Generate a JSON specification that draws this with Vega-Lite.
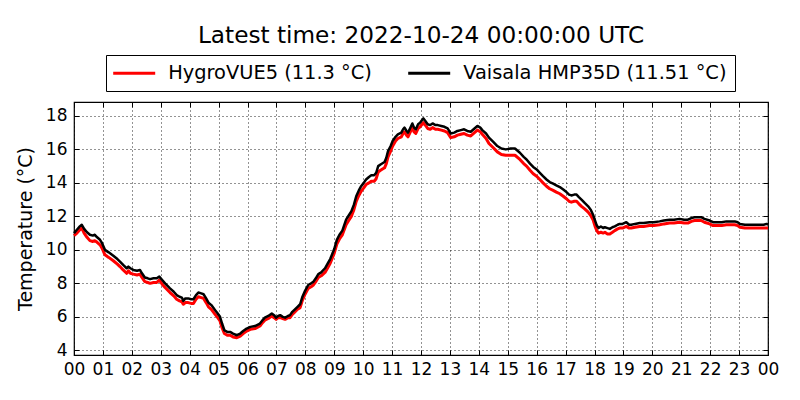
{
  "$schema": "https://vega.github.io/schema/vega-lite/v6.json",
  "width": 694,
  "height": 253,
  "autosize": {"type": "none"},
  "padding": {"left": 74, "top": 102, "right": 32, "bottom": 45},
  "background": "white",
  "title": {
    "text": "Latest time: 2022-10-24 00:00:00 UTC",
    "frame": "group",
    "anchor": "middle",
    "font": "DejaVu Sans",
    "fontSize": 23.2,
    "fontWeight": "normal",
    "color": "black",
    "offset": 6
  },
  "data": {
    "values": [
      {"h": 0.00, "hygro": 10.85, "vaisala": 11.0},
      {"h": 0.10, "hygro": 11.0, "vaisala": 11.2},
      {"h": 0.20, "hygro": 11.2, "vaisala": 11.4},
      {"h": 0.27, "hygro": 11.3, "vaisala": 11.5},
      {"h": 0.35, "hygro": 11.0, "vaisala": 11.25},
      {"h": 0.45, "hygro": 10.75, "vaisala": 11.05},
      {"h": 0.55, "hygro": 10.55, "vaisala": 10.9},
      {"h": 0.65, "hygro": 10.5, "vaisala": 10.85},
      {"h": 0.72, "hygro": 10.55, "vaisala": 10.9},
      {"h": 0.80, "hygro": 10.45, "vaisala": 10.75},
      {"h": 0.90, "hygro": 10.3, "vaisala": 10.6},
      {"h": 0.97, "hygro": 10.1, "vaisala": 10.4},
      {"h": 1.07, "hygro": 9.7, "vaisala": 10.0},
      {"h": 1.20, "hygro": 9.55, "vaisala": 9.85},
      {"h": 1.36, "hygro": 9.35, "vaisala": 9.65},
      {"h": 1.50, "hygro": 9.15, "vaisala": 9.45},
      {"h": 1.59, "hygro": 9.0, "vaisala": 9.3},
      {"h": 1.70, "hygro": 8.8, "vaisala": 9.1},
      {"h": 1.82, "hygro": 8.6, "vaisala": 8.9},
      {"h": 1.88, "hygro": 8.75, "vaisala": 9.0},
      {"h": 1.95, "hygro": 8.6, "vaisala": 8.9},
      {"h": 2.05, "hygro": 8.55, "vaisala": 8.8},
      {"h": 2.18, "hygro": 8.5, "vaisala": 8.75},
      {"h": 2.28, "hygro": 8.55, "vaisala": 8.8},
      {"h": 2.35, "hygro": 8.35, "vaisala": 8.6},
      {"h": 2.45, "hygro": 8.1, "vaisala": 8.35},
      {"h": 2.55, "hygro": 8.05, "vaisala": 8.3},
      {"h": 2.63, "hygro": 8.0, "vaisala": 8.25},
      {"h": 2.75, "hygro": 8.05, "vaisala": 8.3},
      {"h": 2.86, "hygro": 8.05, "vaisala": 8.3},
      {"h": 2.95, "hygro": 8.2, "vaisala": 8.4},
      {"h": 3.05, "hygro": 7.95, "vaisala": 8.2},
      {"h": 3.15, "hygro": 7.75, "vaisala": 8.0},
      {"h": 3.32, "hygro": 7.45, "vaisala": 7.7},
      {"h": 3.45, "hygro": 7.25, "vaisala": 7.5},
      {"h": 3.55, "hygro": 7.05, "vaisala": 7.3},
      {"h": 3.65, "hygro": 6.95, "vaisala": 7.2},
      {"h": 3.73, "hygro": 6.9, "vaisala": 7.15},
      {"h": 3.78, "hygro": 6.75, "vaisala": 6.95},
      {"h": 3.85, "hygro": 6.85, "vaisala": 7.1},
      {"h": 3.95, "hygro": 6.85, "vaisala": 7.1},
      {"h": 4.05, "hygro": 6.8, "vaisala": 7.05},
      {"h": 4.13, "hygro": 6.8, "vaisala": 7.05},
      {"h": 4.22, "hygro": 7.05, "vaisala": 7.3},
      {"h": 4.30, "hygro": 7.2, "vaisala": 7.45},
      {"h": 4.40, "hygro": 7.15, "vaisala": 7.4},
      {"h": 4.48, "hygro": 7.1, "vaisala": 7.35},
      {"h": 4.57, "hygro": 6.85, "vaisala": 7.1},
      {"h": 4.65, "hygro": 6.6, "vaisala": 6.85},
      {"h": 4.75, "hygro": 6.45, "vaisala": 6.7},
      {"h": 4.88, "hygro": 6.15, "vaisala": 6.4},
      {"h": 4.97, "hygro": 5.95, "vaisala": 6.2},
      {"h": 5.05, "hygro": 5.75, "vaisala": 6.0},
      {"h": 5.12, "hygro": 5.35, "vaisala": 5.6},
      {"h": 5.20, "hygro": 5.0, "vaisala": 5.2},
      {"h": 5.30, "hygro": 4.9, "vaisala": 5.1},
      {"h": 5.40, "hygro": 4.9, "vaisala": 5.1},
      {"h": 5.50, "hygro": 4.8, "vaisala": 5.0},
      {"h": 5.63, "hygro": 4.75, "vaisala": 4.9},
      {"h": 5.75, "hygro": 4.85, "vaisala": 5.0},
      {"h": 5.85, "hygro": 5.0, "vaisala": 5.15},
      {"h": 5.97, "hygro": 5.15, "vaisala": 5.3},
      {"h": 6.10, "hygro": 5.25, "vaisala": 5.4},
      {"h": 6.26, "hygro": 5.3, "vaisala": 5.45},
      {"h": 6.43, "hygro": 5.45, "vaisala": 5.6},
      {"h": 6.52, "hygro": 5.65, "vaisala": 5.8},
      {"h": 6.60, "hygro": 5.8, "vaisala": 5.95},
      {"h": 6.72, "hygro": 5.9, "vaisala": 6.05},
      {"h": 6.84, "hygro": 6.05, "vaisala": 6.2},
      {"h": 6.92, "hygro": 5.95, "vaisala": 6.1},
      {"h": 6.99, "hygro": 5.85, "vaisala": 5.95},
      {"h": 7.06, "hygro": 5.95, "vaisala": 6.05},
      {"h": 7.13, "hygro": 5.95, "vaisala": 6.1},
      {"h": 7.22, "hygro": 5.9, "vaisala": 6.0},
      {"h": 7.30, "hygro": 5.85, "vaisala": 5.95},
      {"h": 7.40, "hygro": 5.95, "vaisala": 6.05},
      {"h": 7.47, "hygro": 5.95, "vaisala": 6.1},
      {"h": 7.55, "hygro": 6.15, "vaisala": 6.3},
      {"h": 7.64, "hygro": 6.3, "vaisala": 6.45},
      {"h": 7.73, "hygro": 6.45, "vaisala": 6.6},
      {"h": 7.82, "hygro": 6.55, "vaisala": 6.75},
      {"h": 7.90, "hygro": 7.0, "vaisala": 7.2},
      {"h": 7.99, "hygro": 7.35, "vaisala": 7.55},
      {"h": 8.10, "hygro": 7.7, "vaisala": 7.9},
      {"h": 8.20, "hygro": 7.8, "vaisala": 8.0},
      {"h": 8.28, "hygro": 7.9, "vaisala": 8.1},
      {"h": 8.38, "hygro": 8.15, "vaisala": 8.35},
      {"h": 8.45, "hygro": 8.35, "vaisala": 8.55},
      {"h": 8.55, "hygro": 8.45, "vaisala": 8.65},
      {"h": 8.68, "hygro": 8.65, "vaisala": 8.9},
      {"h": 8.78, "hygro": 8.95, "vaisala": 9.2},
      {"h": 8.86, "hygro": 9.2, "vaisala": 9.45},
      {"h": 8.93, "hygro": 9.5, "vaisala": 9.75},
      {"h": 9.00, "hygro": 9.8, "vaisala": 10.05},
      {"h": 9.09, "hygro": 10.35, "vaisala": 10.6},
      {"h": 9.18, "hygro": 10.65, "vaisala": 10.9},
      {"h": 9.28, "hygro": 10.9, "vaisala": 11.15},
      {"h": 9.41, "hygro": 11.5, "vaisala": 11.8},
      {"h": 9.50, "hygro": 11.75, "vaisala": 12.05},
      {"h": 9.59, "hygro": 12.0, "vaisala": 12.3},
      {"h": 9.68, "hygro": 12.4, "vaisala": 12.7},
      {"h": 9.76, "hygro": 12.9, "vaisala": 13.2},
      {"h": 9.85, "hygro": 13.25, "vaisala": 13.55},
      {"h": 9.93, "hygro": 13.5, "vaisala": 13.8},
      {"h": 10.02, "hygro": 13.7, "vaisala": 14.0},
      {"h": 10.10, "hygro": 13.9, "vaisala": 14.2},
      {"h": 10.20, "hygro": 14.0, "vaisala": 14.35},
      {"h": 10.28, "hygro": 14.1, "vaisala": 14.45},
      {"h": 10.38, "hygro": 14.1, "vaisala": 14.45},
      {"h": 10.45, "hygro": 14.25, "vaisala": 14.6},
      {"h": 10.52, "hygro": 14.65, "vaisala": 15.0},
      {"h": 10.60, "hygro": 14.75, "vaisala": 15.1},
      {"h": 10.74, "hygro": 14.9, "vaisala": 15.25},
      {"h": 10.80, "hygro": 15.15, "vaisala": 15.5},
      {"h": 10.86, "hygro": 15.55, "vaisala": 15.9},
      {"h": 10.95, "hygro": 15.9, "vaisala": 16.2},
      {"h": 11.02, "hygro": 16.2, "vaisala": 16.5},
      {"h": 11.12, "hygro": 16.5, "vaisala": 16.75},
      {"h": 11.20, "hygro": 16.65, "vaisala": 16.9},
      {"h": 11.32, "hygro": 16.75, "vaisala": 17.0},
      {"h": 11.38, "hygro": 16.95, "vaisala": 17.2},
      {"h": 11.43, "hygro": 17.05, "vaisala": 17.3},
      {"h": 11.50, "hygro": 16.85, "vaisala": 17.1},
      {"h": 11.55, "hygro": 16.75, "vaisala": 17.0},
      {"h": 11.62, "hygro": 17.0, "vaisala": 17.25},
      {"h": 11.70, "hygro": 17.3, "vaisala": 17.55},
      {"h": 11.76, "hygro": 17.05, "vaisala": 17.3},
      {"h": 11.82, "hygro": 16.95, "vaisala": 17.2},
      {"h": 11.90, "hygro": 17.25, "vaisala": 17.5},
      {"h": 11.97, "hygro": 17.35, "vaisala": 17.6},
      {"h": 12.08, "hygro": 17.6, "vaisala": 17.85},
      {"h": 12.15, "hygro": 17.45, "vaisala": 17.7},
      {"h": 12.23, "hygro": 17.25, "vaisala": 17.5},
      {"h": 12.32, "hygro": 17.2, "vaisala": 17.45},
      {"h": 12.40, "hygro": 17.3, "vaisala": 17.55},
      {"h": 12.50, "hygro": 17.2, "vaisala": 17.45},
      {"h": 12.58, "hygro": 17.2, "vaisala": 17.45},
      {"h": 12.70, "hygro": 17.15, "vaisala": 17.4},
      {"h": 12.81, "hygro": 17.1, "vaisala": 17.35},
      {"h": 12.92, "hygro": 17.0, "vaisala": 17.25},
      {"h": 13.03, "hygro": 16.7, "vaisala": 16.95},
      {"h": 13.15, "hygro": 16.75, "vaisala": 17.0},
      {"h": 13.26, "hygro": 16.85, "vaisala": 17.1},
      {"h": 13.38, "hygro": 16.9, "vaisala": 17.15},
      {"h": 13.49, "hygro": 16.95, "vaisala": 17.2},
      {"h": 13.60, "hygro": 16.85, "vaisala": 17.1},
      {"h": 13.72, "hygro": 16.8, "vaisala": 17.05},
      {"h": 13.85, "hygro": 17.0, "vaisala": 17.25},
      {"h": 13.95, "hygro": 17.15, "vaisala": 17.4},
      {"h": 14.05, "hygro": 17.05, "vaisala": 17.3},
      {"h": 14.12, "hygro": 16.9, "vaisala": 17.15},
      {"h": 14.25, "hygro": 16.65, "vaisala": 16.95},
      {"h": 14.35, "hygro": 16.35, "vaisala": 16.7},
      {"h": 14.50, "hygro": 16.1, "vaisala": 16.45},
      {"h": 14.64, "hygro": 15.85, "vaisala": 16.2},
      {"h": 14.78, "hygro": 15.7, "vaisala": 16.05},
      {"h": 14.93, "hygro": 15.65, "vaisala": 16.0},
      {"h": 15.10, "hygro": 15.65, "vaisala": 16.05},
      {"h": 15.25, "hygro": 15.65, "vaisala": 16.05},
      {"h": 15.42, "hygro": 15.4, "vaisala": 15.8},
      {"h": 15.55, "hygro": 15.15, "vaisala": 15.55},
      {"h": 15.65, "hygro": 15.0, "vaisala": 15.4},
      {"h": 15.77, "hygro": 14.75, "vaisala": 15.15},
      {"h": 15.88, "hygro": 14.55, "vaisala": 14.95},
      {"h": 16.00, "hygro": 14.4, "vaisala": 14.8},
      {"h": 16.11, "hygro": 14.2, "vaisala": 14.6},
      {"h": 16.22, "hygro": 14.0, "vaisala": 14.4},
      {"h": 16.34, "hygro": 13.8, "vaisala": 14.2},
      {"h": 16.45, "hygro": 13.65, "vaisala": 14.05},
      {"h": 16.57, "hygro": 13.55, "vaisala": 13.95},
      {"h": 16.68, "hygro": 13.45, "vaisala": 13.85},
      {"h": 16.80, "hygro": 13.35, "vaisala": 13.75},
      {"h": 16.92, "hygro": 13.2, "vaisala": 13.6},
      {"h": 17.03, "hygro": 13.05, "vaisala": 13.45},
      {"h": 17.12, "hygro": 12.9, "vaisala": 13.3},
      {"h": 17.20, "hygro": 12.85, "vaisala": 13.25},
      {"h": 17.30, "hygro": 12.9, "vaisala": 13.3},
      {"h": 17.38, "hygro": 12.9, "vaisala": 13.3},
      {"h": 17.46, "hygro": 12.75, "vaisala": 13.15},
      {"h": 17.55, "hygro": 12.6, "vaisala": 13.0},
      {"h": 17.66, "hygro": 12.45, "vaisala": 12.8},
      {"h": 17.78, "hygro": 12.25, "vaisala": 12.6},
      {"h": 17.87, "hygro": 12.05, "vaisala": 12.4},
      {"h": 17.95, "hygro": 11.8, "vaisala": 12.1},
      {"h": 18.02, "hygro": 11.4, "vaisala": 11.75},
      {"h": 18.08, "hygro": 11.15, "vaisala": 11.45},
      {"h": 18.14, "hygro": 11.0, "vaisala": 11.3},
      {"h": 18.22, "hygro": 11.05, "vaisala": 11.4},
      {"h": 18.30, "hygro": 11.0, "vaisala": 11.3},
      {"h": 18.36, "hygro": 11.05, "vaisala": 11.35},
      {"h": 18.45, "hygro": 10.95, "vaisala": 11.3},
      {"h": 18.53, "hygro": 10.95, "vaisala": 11.25},
      {"h": 18.62, "hygro": 11.05, "vaisala": 11.35},
      {"h": 18.70, "hygro": 11.15, "vaisala": 11.4},
      {"h": 18.80, "hygro": 11.25, "vaisala": 11.5},
      {"h": 18.87, "hygro": 11.3, "vaisala": 11.55},
      {"h": 18.97, "hygro": 11.3, "vaisala": 11.55},
      {"h": 19.10, "hygro": 11.4, "vaisala": 11.65},
      {"h": 19.20, "hygro": 11.3, "vaisala": 11.5},
      {"h": 19.27, "hygro": 11.3, "vaisala": 11.5},
      {"h": 19.40, "hygro": 11.35, "vaisala": 11.55},
      {"h": 19.56, "hygro": 11.4, "vaisala": 11.6},
      {"h": 19.70, "hygro": 11.4, "vaisala": 11.6},
      {"h": 19.90, "hygro": 11.45, "vaisala": 11.65},
      {"h": 20.05, "hygro": 11.45, "vaisala": 11.65},
      {"h": 20.25, "hygro": 11.5, "vaisala": 11.7},
      {"h": 20.40, "hygro": 11.55, "vaisala": 11.75},
      {"h": 20.60, "hygro": 11.6, "vaisala": 11.8},
      {"h": 20.75, "hygro": 11.6, "vaisala": 11.8},
      {"h": 20.94, "hygro": 11.65, "vaisala": 11.85},
      {"h": 21.10, "hygro": 11.6, "vaisala": 11.8},
      {"h": 21.23, "hygro": 11.6, "vaisala": 11.8},
      {"h": 21.35, "hygro": 11.7, "vaisala": 11.9},
      {"h": 21.46, "hygro": 11.75, "vaisala": 11.95},
      {"h": 21.60, "hygro": 11.75, "vaisala": 11.95},
      {"h": 21.69, "hygro": 11.75, "vaisala": 11.95},
      {"h": 21.80, "hygro": 11.65, "vaisala": 11.85},
      {"h": 21.98, "hygro": 11.55, "vaisala": 11.75},
      {"h": 22.10, "hygro": 11.45, "vaisala": 11.65},
      {"h": 22.27, "hygro": 11.45, "vaisala": 11.65},
      {"h": 22.40, "hygro": 11.45, "vaisala": 11.65},
      {"h": 22.56, "hygro": 11.5, "vaisala": 11.7},
      {"h": 22.70, "hygro": 11.5, "vaisala": 11.7},
      {"h": 22.85, "hygro": 11.5, "vaisala": 11.7},
      {"h": 22.95, "hygro": 11.45, "vaisala": 11.65},
      {"h": 23.03, "hygro": 11.35, "vaisala": 11.55},
      {"h": 23.20, "hygro": 11.3, "vaisala": 11.5},
      {"h": 23.37, "hygro": 11.3, "vaisala": 11.5},
      {"h": 23.55, "hygro": 11.3, "vaisala": 11.5},
      {"h": 23.72, "hygro": 11.3, "vaisala": 11.5},
      {"h": 23.85, "hygro": 11.3, "vaisala": 11.5},
      {"h": 23.95, "hygro": 11.3, "vaisala": 11.55},
      {"h": 24.00, "hygro": 11.3, "vaisala": 11.51}
    ]
  },
  "layer": [
    {
      "mark": {"type": "line", "color": "#ff0000", "strokeWidth": 3, "strokeJoin": "round"},
      "encoding": {
        "x": {
          "field": "h",
          "type": "quantitative",
          "scale": {"domain": [0, 24], "nice": false, "zero": false},
          "axis": {
            "orient": "bottom",
            "values": [0, 1, 2, 3, 4, 5, 6, 7, 8, 9, 10, 11, 12, 13, 14, 15, 16, 17, 18, 19, 20, 21, 22, 23, 24],
            "labelExpr": "datum.value % 24 < 10 ? '0' + (datum.value % 24) : '' + datum.value",
            "title": null,
            "grid": true,
            "tickSize": -5,
            "labelPadding": 11
          }
        },
        "y": {
          "field": "hygro",
          "type": "quantitative",
          "scale": {"domain": [3.72, 18.83], "nice": false, "zero": false},
          "axis": {
            "orient": "left",
            "values": [4, 6, 8, 10, 12, 14, 16, 18],
            "title": "Temperature (°C)",
            "grid": true,
            "tickSize": -5,
            "labelPadding": 12,
            "titlePadding": 10
          }
        },
        "color": {
          "datum": "HygroVUE5 (11.3 °C)",
          "type": "nominal",
          "scale": {
            "domain": ["HygroVUE5 (11.3 °C)", "Vaisala HMP35D (11.51 °C)"],
            "range": ["#ff0000", "#000000"]
          },
          "legend": {
            "orient": "none",
            "legendX": 32,
            "legendY": -47,
            "direction": "horizontal",
            "title": null,
            "symbolType": "M-2,0H6",
            "symbolSize": 110.25,
            "symbolStrokeWidth": 3,
            "labelFont": "DejaVu Sans",
            "labelFontSize": 19.4,
            "labelColor": "black",
            "labelLimit": 0,
            "labelOffset": 34.8,
            "columnPadding": 30,
            "padding": 8,
            "strokeColor": "black",
            "fillColor": "white"
          }
        }
      }
    },
    {
      "mark": {"type": "line", "color": "#000000", "strokeWidth": 2.5, "strokeJoin": "round"},
      "encoding": {
        "x": {
          "field": "h",
          "type": "quantitative",
          "axis": {
            "orient": "top",
            "values": [0, 1, 2, 3, 4, 5, 6, 7, 8, 9, 10, 11, 12, 13, 14, 15, 16, 17, 18, 19, 20, 21, 22, 23, 24],
            "labels": false,
            "title": null,
            "grid": false,
            "tickSize": -5
          }
        },
        "y": {
          "field": "vaisala",
          "type": "quantitative",
          "axis": {
            "orient": "right",
            "values": [4, 6, 8, 10, 12, 14, 16, 18],
            "labels": false,
            "title": null,
            "grid": false,
            "tickSize": -5
          }
        },
        "color": {"datum": "Vaisala HMP35D (11.51 °C)", "type": "nominal"}
      }
    }
  ],
  "resolve": {"axis": {"x": "independent", "y": "independent"}},
  "config": {
    "font": "DejaVu Sans",
    "view": {"stroke": "black", "strokeWidth": 1.2},
    "axis": {
      "domain": false,
      "labelFont": "DejaVu Sans",
      "labelFontSize": 17,
      "labelColor": "black",
      "titleFont": "DejaVu Sans",
      "titleFontSize": 19,
      "titleFontWeight": "normal",
      "titleColor": "black",
      "tickColor": "black",
      "tickWidth": 1,
      "gridColor": "#000000",
      "gridOpacity": 0.85,
      "gridDash": [1, 3],
      "gridWidth": 1,
      "labelFlush": false,
      "labelOverlap": false
    }
  }
}
